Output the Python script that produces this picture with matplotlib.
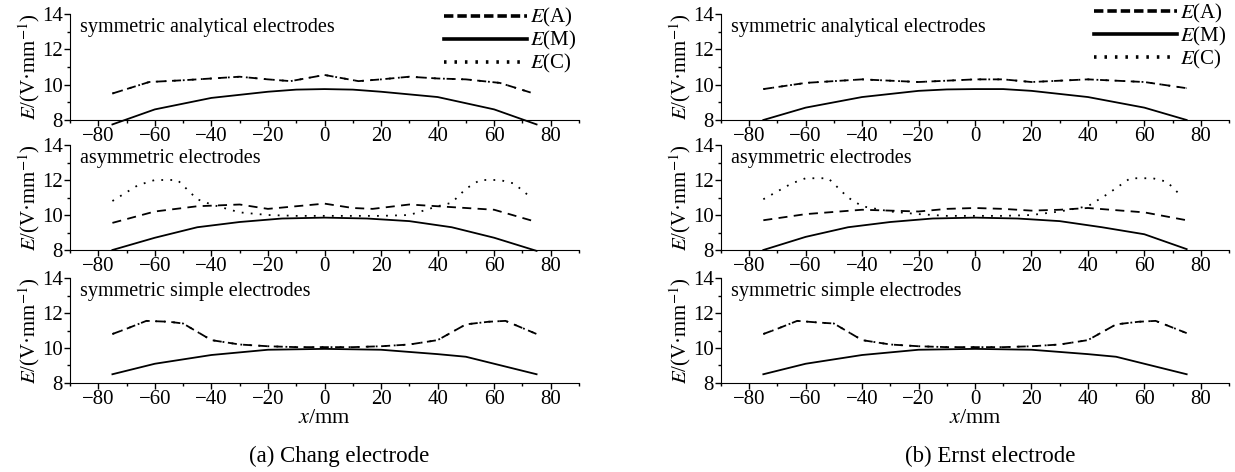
import matplotlib
matplotlib.use('Agg')
import matplotlib.pyplot as plt
from matplotlib.lines import Line2D
from matplotlib.ticker import MultipleLocator

plt.rcParams['font.family'] = ['Liberation Serif', 'DejaVu Serif']
plt.rcParams['mathtext.fontset'] = 'stix'
plt.rcParams['font.size'] = 14

# ---- (a) Chang electrode ----
# symmetric analytical: E(A) and E(C) coincide
ca1_x = [-75, -62, -50, -40, -30, -20, -12, 0, 12, 20, 30, 40, 50, 62, 73]
ca1_A = [9.5, 10.15, 10.25, 10.35, 10.45, 10.3, 10.2, 10.55, 10.2, 10.3, 10.45, 10.35, 10.3, 10.1, 9.55]
ca1_Mx = [-75, -60, -40, -20, -10, 0, 10, 20, 40, 60, 75]
ca1_M = [7.75, 8.6, 9.25, 9.6, 9.72, 9.75, 9.72, 9.6, 9.3, 8.6, 7.75]

# asymmetric
ca2_Ax = [-75, -60, -45, -30, -20, -10, 0, 10, 17, 30, 40, 60, 75]
ca2_A = [9.55, 10.2, 10.5, 10.6, 10.35, 10.5, 10.65, 10.4, 10.35, 10.6, 10.5, 10.3, 9.6]
ca2_Cx = [-75, -66, -60, -52, -45, -40, -30, -20, -10, 0, 10, 20, 30, 40, 45, 50, 55, 62, 67, 73]
ca2_C = [10.8, 11.7, 12.0, 12.0, 10.9, 10.6, 10.15, 10.0, 9.95, 9.95, 9.95, 9.95, 10.0, 10.5, 10.7, 11.5, 12.0, 12.0, 11.8, 11.0]
ca2_Mx = [-75, -60, -45, -30, -15, 0, 15, 30, 45, 60, 75]
ca2_M = [8.0, 8.7, 9.3, 9.6, 9.8, 9.85, 9.8, 9.65, 9.3, 8.7, 7.95]

# symmetric simple: E(A) and E(C) coincide
ca3_x = [-75, -70, -63, -55, -50, -40, -30, -20, -10, 0, 10, 20, 30, 40, 50, 58, 64, 75]
ca3_A = [10.8, 11.1, 11.55, 11.5, 11.4, 10.45, 10.2, 10.1, 10.05, 10.05, 10.05, 10.1, 10.2, 10.45, 11.35, 11.5, 11.55, 10.8]
ca3_Mx = [-75, -60, -40, -20, 0, 20, 40, 50, 60, 75]
ca3_M = [8.5, 9.1, 9.6, 9.9, 9.95, 9.9, 9.65, 9.5, 9.1, 8.5]

# ---- (b) Ernst electrode ----
eb1_x = [-75, -60, -40, -20, 0, 10, 20, 40, 60, 75]
eb1_A = [9.75, 10.1, 10.3, 10.15, 10.3, 10.3, 10.15, 10.3, 10.15, 9.8]
eb1_Mx = [-75, -60, -40, -20, -10, 0, 10, 20, 40, 60, 75]
eb1_M = [8.0, 8.7, 9.3, 9.65, 9.73, 9.75, 9.75, 9.65, 9.3, 8.7, 8.0]

eb2_Ax = [-75, -60, -40, -20, -10, 0, 10, 20, 30, 40, 60, 75]
eb2_A = [9.7, 10.05, 10.3, 10.2, 10.35, 10.4, 10.35, 10.25, 10.3, 10.4, 10.15, 9.7]
eb2_Cx = [-75, -65, -60, -52, -45, -40, -30, -20, -10, 0, 10, 20, 30, 40, 47, 55, 63, 68, 73]
eb2_C = [10.9, 11.8, 12.1, 12.1, 11.0, 10.5, 10.2, 10.05, 9.95, 9.95, 9.95, 10.0, 10.2, 10.5, 11.2, 12.1, 12.1, 11.9, 11.1]
eb2_Mx = [-75, -60, -45, -30, -15, 0, 15, 30, 45, 60, 75]
eb2_M = [8.0, 8.75, 9.3, 9.6, 9.8, 9.85, 9.8, 9.65, 9.3, 8.9, 8.05]

eb3_x = [-75, -70, -63, -55, -50, -40, -30, -20, -10, 0, 10, 20, 30, 40, 50, 58, 64, 75]
eb3_A = [10.8, 11.1, 11.55, 11.45, 11.4, 10.45, 10.2, 10.1, 10.05, 10.05, 10.05, 10.1, 10.2, 10.45, 11.35, 11.5, 11.55, 10.85]
eb3_Mx = [-75, -60, -40, -20, 0, 20, 40, 50, 60, 75]
eb3_M = [8.5, 9.1, 9.6, 9.9, 9.95, 9.9, 9.65, 9.5, 9.1, 8.5]

panel_titles = ['symmetric analytical electrodes', 'asymmetric electrodes', 'symmetric simple electrodes']
captions = ['(a) Chang electrode', '(b) Ernst electrode']

cols = [
    [(ca1_x, ca1_A, ca1_x, ca1_A, ca1_Mx, ca1_M),
     (ca2_Ax, ca2_A, ca2_Cx, ca2_C, ca2_Mx, ca2_M),
     (ca3_x, ca3_A, ca3_x, ca3_A, ca3_Mx, ca3_M)],
    [(eb1_x, eb1_A, eb1_x, eb1_A, eb1_Mx, eb1_M),
     (eb2_Ax, eb2_A, eb2_Cx, eb2_C, eb2_Mx, eb2_M),
     (eb3_x, eb3_A, eb3_x, eb3_A, eb3_Mx, eb3_M)],
]

W, H = 1235, 472
fig = plt.figure(figsize=(W / 100, H / 100), dpi=100)

col_px = [(70, 579), (721, 1229)]
row_px = [(14, 120), (145, 250), (278, 383)]

lw = 1.3
for c, (l, r) in enumerate(col_px):
    for i, (t, b) in enumerate(row_px):
        ax = fig.add_axes([l / W, 1 - b / H, (r - l) / W, (b - t) / H])
        ax_, A, cx, C, mx, M = cols[c][i]
        ax.plot(ax_, A, color='black', lw=lw, ls=(0, (5, 3.5)), clip_on=False)
        ax.plot(cx, C, color='black', lw=lw, ls=(0, (1, 4)), clip_on=False)
        ax.plot(mx, M, color='black', lw=lw, clip_on=False)
        ax.set_xlim(-90, 90)
        ax.set_ylim(8, 14)
        ax.xaxis.set_major_locator(MultipleLocator(20))
        ax.xaxis.set_minor_locator(MultipleLocator(10))
        ax.yaxis.set_major_locator(MultipleLocator(2))
        ax.yaxis.set_minor_locator(MultipleLocator(1))
        ax.set_xticks(range(-80, 81, 20))
        ax.spines['top'].set_visible(False)
        ax.spines['right'].set_visible(False)
        ax.tick_params(which='major', direction='out', length=4, width=1, pad=1, labelsize=15)
        ax.tick_params(which='minor', direction='out', length=2.5, width=1)
        ax.set_ylabel('$E$/(V·mm$^{-1}$)', fontsize=15, labelpad=0)
        ax.text(0.02, 0.96, panel_titles[i], transform=ax.transAxes, fontsize=14.5,
                va='top', ha='left')
        if i == 2:
            ax.set_xlabel('$x$/mm', fontsize=16, labelpad=0)
        if i == 0:
            handles = [Line2D([], [], color='black', lw=2.6, ls=(0, (2.6, 1.1))),
                       Line2D([], [], color='black', lw=2.6),
                       Line2D([], [], color='black', lw=2.6, ls=(0, (0.7, 2.2)))]
            ax.legend(handles, ['$E$(A)', '$E$(M)', '$E$(C)'], loc='upper right',
                      bbox_to_anchor=(1.02, 1.23 if c == 1 else 1.19), frameon=False,
                      fontsize=15, handlelength=4.0, handletextpad=0.15,
                      labelspacing=0.0, borderpad=0.1)
    fig.text(((l + r) / 2 + 15) / W, 1 - 456 / H, captions[c], ha='center',
             va='center', fontsize=16.5)

fig.savefig('out.png', dpi=100)
